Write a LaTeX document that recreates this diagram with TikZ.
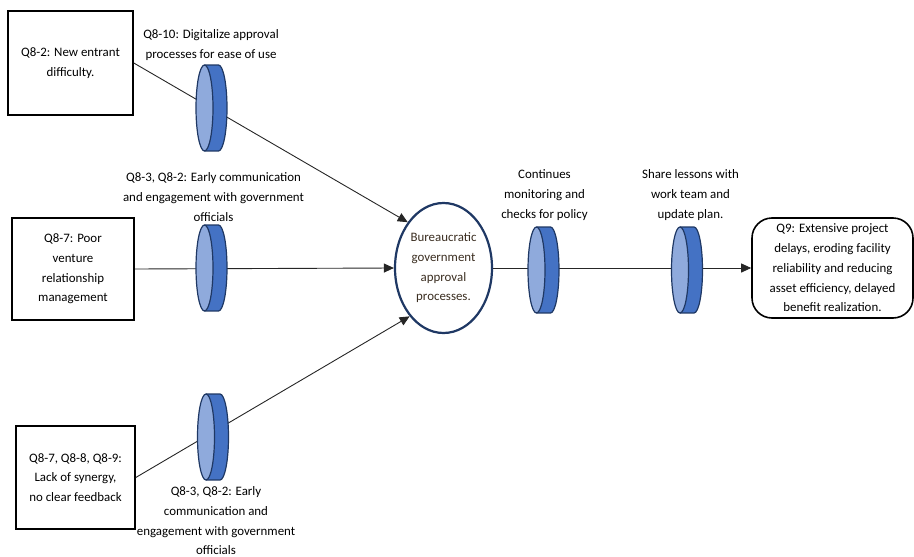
\documentclass[tikz,border=0pt]{standalone}
\usepackage{fontspec}
\setmainfont{Carlito}
\usetikzlibrary{arrows.meta,shapes.geometric}
\definecolor{disclight}{HTML}{8FAADC}
\definecolor{discdark}{HTML}{4472C4}
\definecolor{discline}{HTML}{1F3864}
\definecolor{circtext}{HTML}{3A2D20}
\tikzset{
  txt/.style={font=\fontsize{12.9pt}{19.7pt}\selectfont, align=center, inner sep=0pt, text=black},
  sqbox/.style={txt, draw=black, line width=1.6pt},
  endbox/.style={txt, draw=black, line width=1.6pt, rounded corners=20pt},
  hub/.style={txt, ellipse, draw=discline, line width=2.2pt, text=circtext},
  link/.style={draw=black!85, line width=0.9pt},
  arr/.style={link, -{Triangle[length=10pt,width=9pt]}}
}
\newcommand\drawdisc[2]{%
  \fill[discdark] (#1-7,#2-43) rectangle (#1+7,#2+43);
  \fill[discdark] (#1+7,#2) ellipse [x radius=8.5, y radius=43];
  \draw[discline, line width=1.2pt, line join=round] (#1-7,#2-43) -- (#1+7,#2-43)
     arc[start angle=-90, end angle=90, x radius=8.5, y radius=43] -- (#1-7,#2+43);
  \filldraw[fill=disclight, draw=discline, line width=1.2pt] (#1-7,#2) ellipse [x radius=8.5, y radius=43];
}
\begin{document}
\begin{tikzpicture}[x=1pt,y=-1pt]
\useasboundingbox (0,0) rectangle (914,557);
% boxes
\node[sqbox, minimum width=125pt, minimum height=104pt] (b1) at (70.5,63) {Q8-2: New entrant\\difficulty.};
\node[sqbox, minimum width=122pt, minimum height=102pt] (b2) at (73,269) {Q8-7: Poor\\venture\\relationship\\management};
\node[sqbox, minimum width=119pt, minimum height=103pt] (b3) at (75.5,477.5) {Q8-7, Q8-8, Q8-9:\\Lack of synergy,\\no clear feedback};
\node[hub, minimum width=97pt, minimum height=130pt] (hub) at (443.5,268) {Bureaucratic\\government\\approval\\processes.};
\node[endbox, minimum width=161pt, minimum height=100pt] (out) at (832.5,268) {Q9: Extensive project\\delays, eroding facility\\reliability and reducing\\asset efficiency, delayed\\benefit realization.};
% labels
\node[txt] (l1) at (211,45) {Q8-10: Digitalize approval\\processes for ease of use};
\node[txt] (l2) at (213.5,197) {Q8-3, Q8-2: Early communication\\and engagement with government\\officials};
\node[txt] (l3) at (216,521) {Q8-3, Q8-2: Early\\communication and\\engagement with government\\officials};
\node[txt] (l4) at (544.5,195) {Continues\\monitoring and\\checks for policy};
\node[txt] (l5) at (690.5,195) {Share lessons with\\work team and\\update plan.};
% connectors
\draw[arr] (b1.east) -- (hub.128);
\draw[arr] (b2.east) -- (hub.west);
\draw[arr] (b3.east) -- (hub.235);
\draw[arr] (hub.east) -- (out.west);
% discs
\drawdisc{211.5}{108}
\drawdisc{211.5}{268}
\drawdisc{213}{437}
\drawdisc{543.5}{270}
\drawdisc{687}{270}
\end{tikzpicture}
\end{document}
